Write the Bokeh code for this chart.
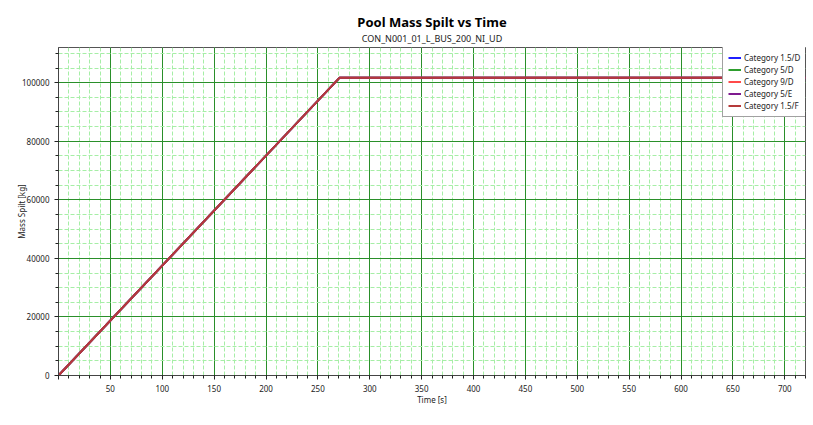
from bokeh.plotting import figure
from bokeh.models import (Range1d, SingleIntervalTicker, Title, Legend, LegendItem)
from bokeh.embed import file_html
from bokeh.resources import INLINE

title_text = "Pool Mass Spilt vs Time"
subtitle_text = "CON_N001_01_L_BUS_200_NI_UD"
x_label = "Time [s]"
y_label = "Mass Spilt [kg]"

categories = ["Category 1.5/D", "Category 5/D", "Category 9/D", "Category 5/E", "Category 1.5/F"]
colors = ["#1f1fff", "#2e9e2e", "#ff4a4a", "#7f1a8f", "#b53a3a"]
time_s = [0, 271, 720]
mass_15D = [0, 101700, 101700]
mass_5D = [0, 101700, 101700]
mass_9D = [0, 101700, 101700]
mass_5E = [0, 101700, 101700]
mass_15F = [0, 101700, 101700]
series = [mass_15D, mass_5D, mass_9D, mass_5E, mass_15F]

FONT = "Noto Sans"

p = figure(frame_width=747, frame_height=328, output_backend="svg", toolbar_location=None,
           x_range=Range1d(0, 720), y_range=Range1d(0, 112000),
           min_border_left=0, min_border_right=2, min_border_bottom=0, min_border_top=0)

p.add_layout(Title(text=subtitle_text, align="center", text_font=FONT, text_font_size="9px",
                   text_font_style="normal", text_color="#222222", standoff=5), "above")
p.add_layout(Title(text=title_text, align="center", text_font=FONT, text_font_size="13px",
                   text_font_style="bold", text_color="#000000", standoff=-7), "above")
# empty spacers to reproduce the outer margins
p.add_layout(Title(text=" ", text_font_size="11px", standoff=0), "above")
p.add_layout(Title(text=" ", text_font_size="10px", standoff=0), "left")

p.background_fill_color = "white"
p.border_fill_color = "white"
p.outline_line_color = "#555555"
p.outline_line_width = 1

p.xaxis.ticker = SingleIntervalTicker(interval=50, num_minor_ticks=5)
p.yaxis.ticker = SingleIntervalTicker(interval=20000, num_minor_ticks=4)
p.xaxis.major_label_overrides = {0: ""}
p.yaxis.formatter.use_scientific = False

for ax in (p.xaxis, p.yaxis):
    ax.axis_line_color = "#444444"
    ax.major_tick_line_color = "#222222"
    ax.minor_tick_line_color = "#222222"
    ax.major_tick_in = 0
    ax.major_tick_out = 4
    ax.minor_tick_in = 0
    ax.minor_tick_out = 3
    ax.major_label_text_font = FONT
    ax.major_label_text_font_size = "8px"
    ax.major_label_text_color = "#222222"
    ax.axis_label_text_font = FONT
    ax.axis_label_text_font_size = "8px"
    ax.axis_label_text_font_style = "normal"
    ax.axis_label_text_color = "#222222"

p.xaxis.axis_label = x_label
p.yaxis.axis_label = y_label
p.xaxis.axis_label_standoff = -1
p.yaxis.axis_label_standoff = -8

for g in (p.xgrid, p.ygrid):
    g.grid_line_color = "#2a8f2a"
    g.grid_line_width = 1
    g.minor_grid_line_color = "#a6eea6"
    g.minor_grid_line_dash = "4 2"
    g.minor_grid_line_width = 1

items = []
for name, col, ys in zip(categories, colors, series):
    r = p.line(time_s, ys, line_color=col, line_width=2)
    items.append(LegendItem(label=name, renderers=[r]))

legend = Legend(items=items, location=(664, 258), label_text_font=FONT,
                label_text_font_size="8px", label_text_color="#222222",
                glyph_width=13, glyph_height=9, label_height=9, spacing=1,
                padding=5, margin=0, label_standoff=3,
                border_line_color="#444444", border_line_width=1,
                background_fill_color="white", background_fill_alpha=1)
p.add_layout(legend, "center")

open("out.html", "w").write(file_html(p, INLINE))
